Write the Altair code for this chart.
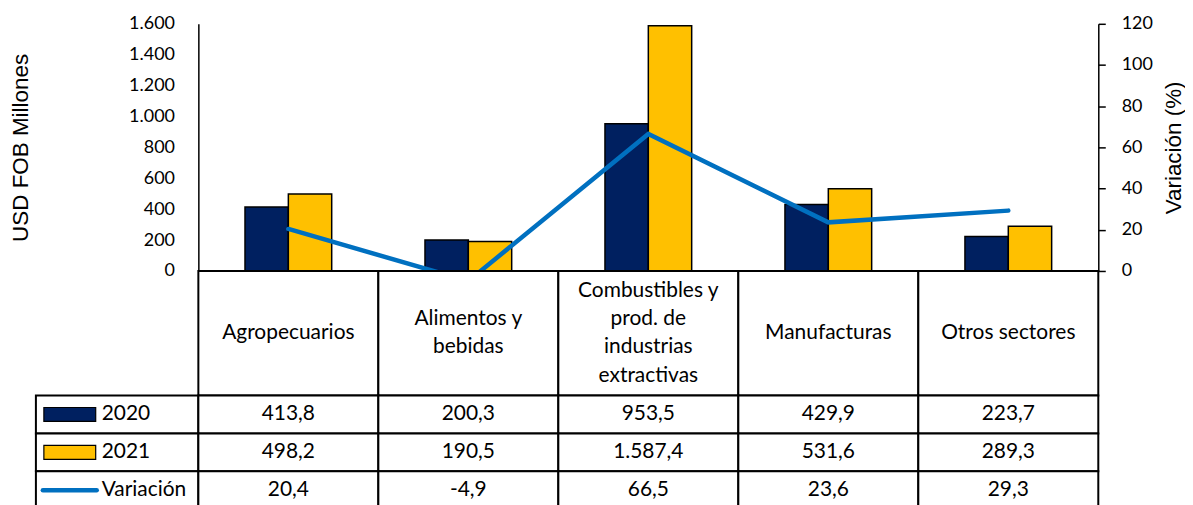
import altair as alt
import pandas as pd

# ---------------- data ----------------
categories = ["Agropecuarios", "Alimentos y bebidas",
              "Combustibles y prod. de industrias extractivas",
              "Manufacturas", "Otros sectores"]
header_labels = ["Agropecuarios", "Alimentos y\nbebidas",
                 "Combustibles y\nprod. de\nindustrias\nextractivas",
                 "Manufacturas", "Otros sectores"]
years = ["2020", "2021"]
values_2020 = [413.8, 200.3, 953.5, 429.9, 223.7]
values_2021 = [498.2, 190.5, 1587.4, 531.6, 289.3]
variation = [20.4, -4.9, 66.5, 23.6, 29.3]
left_ticks = [0, 200, 400, 600, 800, 1000, 1200, 1400, 1600]
right_ticks = [0, 20, 40, 60, 80, 100, 120]
row_names = ["2020", "2021", "Variación"]

# ---------------- style ----------------
NAVY = "#002060"
GOLD = "#FFC000"
BLUE = "#0070C0"
NUM_FONT = "Lato"
TITLE_FONT = "Liberation Sans"
PLOT_W = 903
PLOT_H = 248
HEAD_H = 125   # header row height of the data table
ROW_H = 38     # data row height of the data table
LEG_W = 163    # legend column width (px)
LINE_H = 28.5  # line height of wrapped header text
COL_W = PLOT_W / len(categories)
GROUP_FRAC = 87 / COL_W     # share of a category occupied by the two bars
PAD_IN = 1 - GROUP_FRAC


def es(v):
    s = f"{v:,.1f}"
    return s.replace(",", "#").replace(".", ",").replace("#", ".")


# ---------------- top chart ----------------
bars_df = pd.DataFrame(
    [{"category": c, "year": "2020", "value": v} for c, v in zip(categories, values_2020)]
    + [{"category": c, "year": "2021", "value": v} for c, v in zip(categories, values_2021)]
)
line_df = pd.DataFrame({"category": categories, "variation": variation})

x_scale = alt.Scale(domain=categories, paddingInner=PAD_IN, paddingOuter=PAD_IN / 2)

bars = alt.Chart(bars_df).mark_bar(stroke="black", strokeWidth=1.5).encode(
    x=alt.X("category:N", scale=x_scale, sort=categories, axis=None),
    xOffset=alt.XOffset("year:N", scale=alt.Scale(domain=years, paddingInner=0, paddingOuter=0)),
    y=alt.Y("value:Q",
            scale=alt.Scale(domain=[0, 1600], nice=False),
            axis=alt.Axis(values=left_ticks, title="USD FOB Millones",
                          titleFont=TITLE_FONT, titleFontSize=22.5, titleFontWeight="normal",
                          titleColor="black", titlePadding=96,
                          labelFont=NUM_FONT, labelFontSize=18, labelColor="black",
                          labelPadding=24, ticks=False, grid=False,
                          domainColor="black", domainWidth=1.5,
                          labelExpr="replace(format(datum.value, ','), ',', '.')")),
    color=alt.Color("year:N", scale=alt.Scale(domain=years, range=[NAVY, GOLD]), legend=None),
)

line = alt.Chart(line_df).mark_line(color=BLUE, strokeWidth=4.5, clip=True,
                                    strokeCap="round").encode(
    x=alt.X("category:N", scale=x_scale, sort=categories, axis=None),
    y=alt.Y("variation:Q",
            scale=alt.Scale(domain=[0, 120], nice=False),
            axis=alt.Axis(orient="right", values=right_ticks, title="Variación (%)",
                          titleAngle=270, titleFont=TITLE_FONT, titleFontSize=22.5,
                          titleFontWeight="normal", titleColor="black", titlePadding=33,
                          labelFont=NUM_FONT, labelFontSize=18, labelColor="black",
                          labelPadding=16, ticks=True, tickSize=7, tickColor="black",
                          tickWidth=1.5, grid=False, domainColor="black", domainWidth=1.5)),
)

top = alt.layer(bars, line).resolve_scale(y="independent").properties(width=PLOT_W, height=PLOT_H)

# ---------------- data table ----------------
n = len(categories)
cells = []
texts = []
for i, lab in enumerate(header_labels):
    nl = lab.count("\n") + 1
    cells.append({"x0": i, "x1": i + 1, "y0": 0, "y1": HEAD_H})
    texts.append({"x": i + 0.5, "y": HEAD_H / 2 - (nl - 1) * LINE_H / 2, "t": lab})
series = [values_2020, values_2021, variation]
leg_x0 = -LEG_W / COL_W
for r, (name, vals) in enumerate(zip(row_names, series)):
    y0 = HEAD_H + r * ROW_H
    y1 = y0 + ROW_H
    cells.append({"x0": leg_x0, "x1": 0, "y0": y0, "y1": y1})
    for i, v in enumerate(vals):
        cells.append({"x0": i, "x1": i + 1, "y0": y0, "y1": y1})
        texts.append({"x": i + 0.5, "y": (y0 + y1) / 2, "t": es(v)})
cells_df = pd.DataFrame(cells)
texts_df = pd.DataFrame(texts)

tx = alt.Scale(domain=[0, n], nice=False, zero=False)
TABLE_H = HEAD_H + 3 * ROW_H
ty = alt.Scale(domain=[0, TABLE_H], nice=False, zero=False, reverse=True)

cell_layer = alt.Chart(cells_df).mark_rect(fill="white", stroke="black", strokeWidth=2).encode(
    x=alt.X("x0:Q", scale=tx, axis=None), x2="x1:Q",
    y=alt.Y("y0:Q", scale=ty, axis=None), y2="y1:Q",
)
text_layer = alt.Chart(texts_df).mark_text(font=NUM_FONT, fontSize=21, color="black",
                                           lineBreak="\n", lineHeight=LINE_H,
                                           baseline="middle", align="center").encode(
    x=alt.X("x:Q", scale=tx, axis=None),
    y=alt.Y("y:Q", scale=ty, axis=None),
    text="t:N",
)

# legend keys in the table's first column
sw_x0 = (42 - 197) / COL_W
sw_x1 = (94 - 197) / COL_W
lab_x = (100 - 197) / COL_W
sw_df = pd.DataFrame([
    {"x0": sw_x0, "x1": sw_x1, "y0": HEAD_H + r * ROW_H + ROW_H / 2 - 7,
     "y1": HEAD_H + r * ROW_H + ROW_H / 2 + 7, "year": years[r]}
    for r in range(2)
])
swatches = alt.Chart(sw_df).mark_rect(stroke="black", strokeWidth=1.2).encode(
    x=alt.X("x0:Q", scale=tx, axis=None), x2="x1:Q",
    y=alt.Y("y0:Q", scale=ty, axis=None), y2="y1:Q",
    color=alt.Color("year:N", scale=alt.Scale(domain=years, range=[NAVY, GOLD]), legend=None),
)
leg_line_df = pd.DataFrame([{"x0": (41 - 197) / COL_W, "x1": (95 - 197) / COL_W,
                             "y": HEAD_H + 2 * ROW_H + ROW_H / 2}])
leg_line = alt.Chart(leg_line_df).mark_rule(color=BLUE, strokeWidth=4.5, strokeCap="round").encode(
    x=alt.X("x0:Q", scale=tx, axis=None), x2="x1:Q",
    y=alt.Y("y:Q", scale=ty, axis=None),
)
leg_text_df = pd.DataFrame([{"x": lab_x, "y": HEAD_H + r * ROW_H + ROW_H / 2, "t": nm}
                            for r, nm in enumerate(row_names)])
leg_text = alt.Chart(leg_text_df).mark_text(font=NUM_FONT, fontSize=21, color="black",
                                            baseline="middle", align="left").encode(
    x=alt.X("x:Q", scale=tx, axis=None),
    y=alt.Y("y:Q", scale=ty, axis=None),
    text="t:N",
)

bottom = alt.layer(cell_layer, text_layer, swatches, leg_line, leg_text).properties(
    width=PLOT_W, height=TABLE_H)

chart = alt.vconcat(top, bottom, spacing=0, bounds="flush").configure_view(
    stroke=None).properties(padding={"left": 1, "top": 6, "right": 0, "bottom": 0})

chart.save("out.html", embed_options={"renderer": "svg", "actions": False})
